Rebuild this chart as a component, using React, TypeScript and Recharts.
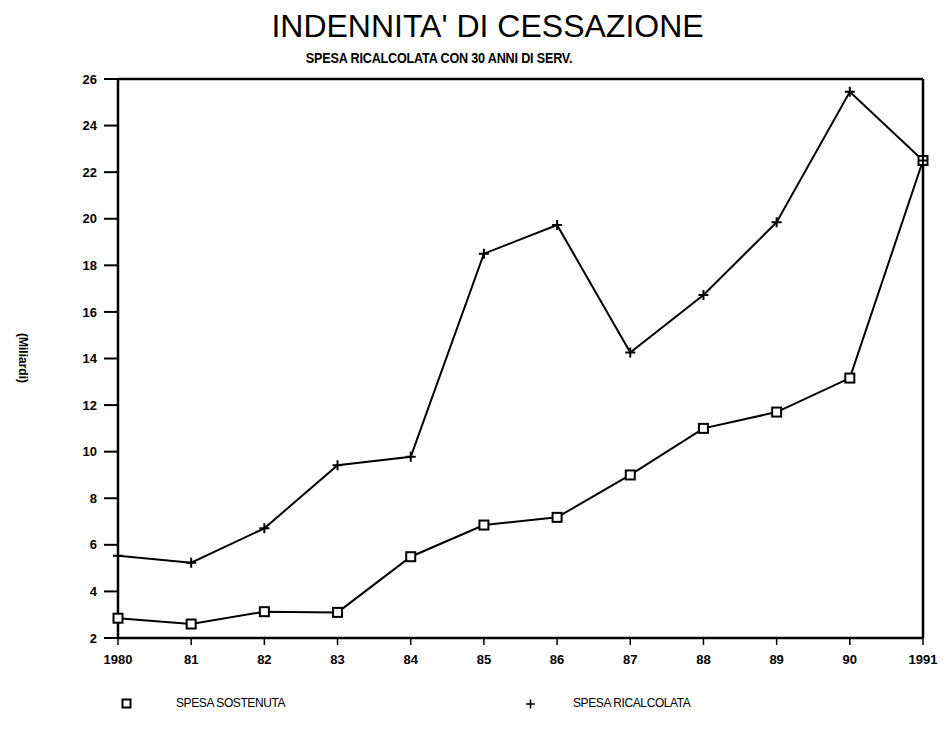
import React from 'react';
import { LineChart, Line, XAxis, YAxis, ReferenceLine, Legend } from 'recharts';

const years = ['1980', '81', '82', '83', '84', '85', '86', '87', '88', '89', '90', '1991'];
const spesaSostenuta = [2.85, 2.6, 3.13, 3.1, 5.49, 6.85, 7.18, 9.0, 11.0, 11.7, 13.16, 22.5];
const spesaRicalcolata = [5.53, 5.23, 6.71, 9.42, 9.78, 18.5, 19.73, 14.26, 16.73, 19.85, 25.45, 22.5];
const yTicks = [2, 4, 6, 8, 10, 12, 14, 16, 18, 20, 22, 24, 26];

const title = "INDENNITA' DI CESSAZIONE";
const subtitle = 'SPESA RICALCOLATA CON 30 ANNI DI SERV.';
const yLabel = '(Miliardi)';
const legendSostenuta = 'SPESA SOSTENUTA';
const legendRicalcolata = 'SPESA RICALCOLATA';

const data = years.map((y, i) => ({ year: y, sostenuta: spesaSostenuta[i], ricalcolata: spesaRicalcolata[i] }));

const FONT = '"Liberation Sans", Arial, sans-serif';
const tickStyle = { fill: '#000', fontFamily: FONT, fontWeight: 700, fontSize: 13 };

const SquareDot = (props: any) => {
  const { cx, cy } = props;
  if (cx == null || cy == null) return null;
  return <rect x={cx - 4.5} y={cy - 4.5} width={9} height={9} fill="#fff" stroke="#000" strokeWidth={2} />;
};

const PlusDot = (props: any) => {
  const { cx, cy } = props;
  if (cx == null || cy == null) return null;
  return <path d={`M${cx - 5},${cy}h10M${cx},${cy - 5}v10`} stroke="#000" strokeWidth={2} fill="none" />;
};

const LegendContent = () => (
  <div style={{ position: 'relative', width: 950, height: 20, fontFamily: FONT, fontSize: 12, color: '#000' }}>
    <svg width={12} height={12} style={{ position: 'absolute', left: 121, top: 4 }}>
      <rect x={1.5} y={1.5} width={8} height={8} fill="#fff" stroke="#000" strokeWidth={2} />
    </svg>
    <span style={{ position: 'absolute', left: 176, top: 2, letterSpacing: -0.4 }}>{legendSostenuta}</span>
    <svg width={12} height={12} style={{ position: 'absolute', left: 525, top: 4 }}>
      <path d="M1,6h9M5.5,1.5v9" stroke="#000" strokeWidth={1.6} fill="none" />
    </svg>
    <span style={{ position: 'absolute', left: 573, top: 2, letterSpacing: -0.4 }}>{legendRicalcolata}</span>
  </div>
);

export default function App() {
  return (
    <div style={{ position: 'absolute', left: 0, top: 0, width: 950, height: 732, background: '#fff' }}>
      <div style={{ position: 'absolute', left: 0, width: 975, top: 8, textAlign: 'center', fontFamily: FONT, fontSize: 32, color: '#000', lineHeight: '36px' }}>
        {title}
      </div>
      <div style={{ position: 'absolute', left: 0, width: 878, top: 50, textAlign: 'center', fontFamily: FONT, fontSize: 14, fontWeight: 700, color: '#000', lineHeight: '17px' }}>
        <span style={{ display: 'inline-block', transform: 'scaleX(0.9)', letterSpacing: -0.2 }}>{subtitle}</span>
      </div>
      <LineChart width={950} height={732} data={data} margin={{ top: 79, right: 27, left: 0, bottom: 64 }}>
        <XAxis
          dataKey="year"
          ticks={years}
          interval={0}
          tick={tickStyle}
          tickSize={7}
          tickMargin={10}
          height={30}
          axisLine={{ stroke: '#000', strokeWidth: 2.5 }}
          tickLine={{ stroke: '#000', strokeWidth: 1.5 }}
        />
        <YAxis
          domain={[2, 26]}
          ticks={yTicks}
          interval={0}
          width={118}
          tick={tickStyle}
          tickSize={14}
          tickMargin={7}
          axisLine={{ stroke: '#000', strokeWidth: 2.5 }}
          tickLine={{ stroke: '#000', strokeWidth: 2 }}
          label={() => (
            <text x={22} y={358} transform="rotate(90 22 358)" textAnchor="middle" dominantBaseline="middle" fontFamily={FONT} fontSize={12} fontWeight={700} fill="#000">
              {yLabel}
            </text>
          )}
        />
        <ReferenceLine y={26} stroke="#000" strokeWidth={2.5} />
        <ReferenceLine x="1991" stroke="#000" strokeWidth={2.5} />
        <Legend layout="horizontal" verticalAlign="middle" align="center" wrapperStyle={{ top: 694, left: 0, width: 950 }} content={LegendContent} />
        <Line type="linear" dataKey="sostenuta" stroke="#000" strokeWidth={2} dot={SquareDot} activeDot={false} isAnimationActive={false} />
        <Line type="linear" dataKey="ricalcolata" stroke="#000" strokeWidth={2} dot={PlusDot} activeDot={false} isAnimationActive={false} />
      </LineChart>
    </div>
  );
}
